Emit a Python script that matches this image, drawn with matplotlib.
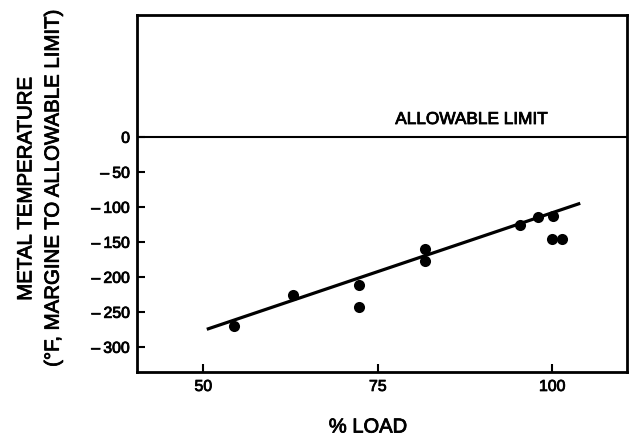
import matplotlib
matplotlib.use("Agg")
import matplotlib.pyplot as plt
import matplotlib.patheffects as pe

plt.rcParams['font.family'] = ['Liberation Sans', 'DejaVu Sans']

# data points (% load, metal temperature margin in °F)
load_pct = [54.4, 62.9, 72.3, 72.3, 81.8, 81.8, 95.4, 98.0, 100.1, 100.0, 101.4]
temp_margin = [-270, -226, -211, -243, -160, -177, -126, -114, -113, -146, -146]

# fitted trend line endpoints
fit_x = [50.5, 104.0]
fit_y = [-275, -95]

allowable_limit = 0

x_ticks = [50, 75, 100]
x_tick_labels = ['50', '75', '100']
y_ticks = [0, -50, -100, -150, -200, -250, -300]
y_tick_labels = ['0', '\u2013\u200950', '\u2013\u2009100', '\u2013\u2009150',
                 '\u2013\u2009200', '\u2013\u2009250', '\u2013\u2009300']

bold = [pe.withStroke(linewidth=0.6, foreground='black')]

fig = plt.figure(figsize=(6.34, 4.38), dpi=100)
ax = fig.add_axes([137/634, 1-372/438, 490/634, 357/438])

ax.plot(fit_x, fit_y, color='black', lw=2.3, solid_capstyle='butt')
ax.plot(load_pct, temp_margin, 'o', color='black', markersize=8, markeredgewidth=0)
ax.axhline(allowable_limit, color='black', lw=1.5)
ax.text(77.5, 14, 'ALLOWABLE LIMIT', fontsize=12.4, ha='left', va='bottom',
        color='black', path_effects=bold)

ax.set_xlim(40.5, 110.7)
ax.set_ylim(-336, 174)
ax.set_xticks(x_ticks)
ax.set_xticklabels(x_tick_labels)
ax.set_yticks(y_ticks)
ax.set_yticklabels(y_tick_labels)
ax.tick_params(direction='in', length=6, width=1.5, labelsize=11.4, colors='black', pad=5)
for lab in ax.get_xticklabels() + ax.get_yticklabels():
    lab.set_path_effects(bold)
for s in ax.spines.values():
    s.set_linewidth(2)

ax.set_xlabel('% LOAD', fontsize=14.5, va='center', path_effects=bold)
ax.xaxis.set_label_coords((368-137)/490, (372-427)/357)
ax.set_ylabel('METAL TEMPERATURE\n(°F, MARGINE TO ALLOWABLE LIMIT)', fontsize=14.7,
              linespacing=1.55, va='center', ha='center', path_effects=bold)
ax.yaxis.set_label_coords((39.5-137)/490, (372-189)/357)

fig.savefig('out.png', dpi=100)
